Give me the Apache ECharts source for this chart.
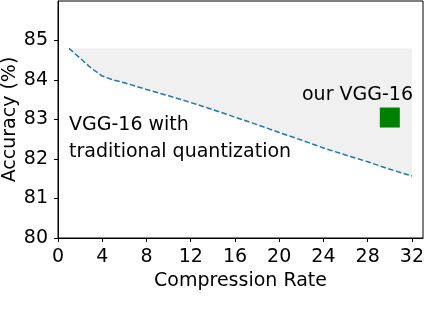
<!DOCTYPE html>
<html>
<head>
<meta charset="utf-8">
<script src="https://cdn.jsdelivr.net/npm/echarts@6/dist/echarts.min.js"></script>
<style>
  html, body { margin: 0; padding: 0; background: #fff; }
  #chart { width: 446px; height: 320px; }
</style>
</head>
<body>
<div id="chart"></div>
<script>
// compression rate vs accuracy of VGG-16 with traditional quantization
const rates = [1, 2, 3, 4, 5, 6, 8, 10, 12, 14, 16, 18, 20, 22, 24, 26, 28, 30, 32];
const accuracy = [84.8, 84.55, 84.3, 84.1, 84.0, 83.93, 83.76, 83.6, 83.43, 83.25, 83.06, 82.87, 82.67, 82.48, 82.28, 82.1, 81.93, 81.74, 81.57];
// the upper bound of the shaded band
const bandTop = 84.8;
// our VGG-16 point
const ourPoint = [30, 83.05];
const xTicks = [0, 4, 8, 12, 16, 20, 24, 28, 32];
const yTicks = [80, 81, 82, 83, 84, 85];

const font = 'DejaVu Sans';
const chart = echarts.init(document.getElementById('chart'));

const lineData = rates.map((r, i) => [r, accuracy[i]]);

chart.setOption({
  animation: false,
  textStyle: { fontFamily: font },
  grid: {
    left: 58, right: 23, top: 1, bottom: 82,
    show: true, borderColor: '#000', borderWidth: 1,
    outerBoundsMode: 'none'
  },
  xAxis: {
    type: 'value',
    min: 0, max: 33,
    name: 'Compression Rate',
    nameLocation: 'middle',
    nameGap: 34,
    nameMoveOverlap: false,
    nameTextStyle: { fontSize: 19, color: '#000', fontFamily: font },
    axisLine: { lineStyle: { color: '#000', width: 1 } },
    axisTick: { show: true, length: 4, lineStyle: { color: '#000' }, customValues: xTicks },
    axisLabel: { fontSize: 19, color: '#000', margin: 10, fontFamily: font, customValues: xTicks },
    splitLine: { show: false }
  },
  yAxis: {
    type: 'value',
    min: 80, max: 86,
    name: 'Accuracy (%)',
    nameLocation: 'middle',
    nameGap: 38,
    nameMoveOverlap: false,
    nameTextStyle: { fontSize: 19, color: '#000', fontFamily: font },
    axisLine: { show: true, lineStyle: { color: '#000', width: 1 } },
    axisTick: { show: true, length: 4, lineStyle: { color: '#000' }, customValues: yTicks },
    axisLabel: { fontSize: 19, color: '#000', margin: 10, fontFamily: font, customValues: yTicks },
    splitLine: { show: false }
  },
  series: [
    {
      // shaded region between the curve and the top bound
      type: 'line',
      data: lineData,
      symbol: 'none',
      lineStyle: { width: 0, opacity: 0 },
      areaStyle: { color: '#f0f0f0', opacity: 1, origin: bandTop },
      z: 1
    },
    {
      type: 'line',
      data: lineData,
      symbol: 'none',
      lineStyle: { color: '#1f77b4', width: 1.5, type: [5.5, 2.5] },
      z: 3
    },
    {
      type: 'scatter',
      data: [ourPoint],
      symbol: 'rect',
      symbolSize: 20,
      itemStyle: { color: '#008000', opacity: 1 },
      z: 4
    }
  ],
  graphic: [
    {
      type: 'text', x: 302, y: 86, z: 10,
      style: { text: 'our VGG-16', fontSize: 19, fontFamily: font, fill: '#000' }
    },
    {
      type: 'text', x: 69, y: 116, z: 10,
      style: { text: 'VGG-16 with', fontSize: 19, fontFamily: font, fill: '#000' }
    },
    {
      type: 'text', x: 69, y: 143, z: 10,
      style: { text: 'traditional quantization', fontSize: 19, fontFamily: font, fill: '#000' }
    }
  ]
});
</script>
</body>
</html>
